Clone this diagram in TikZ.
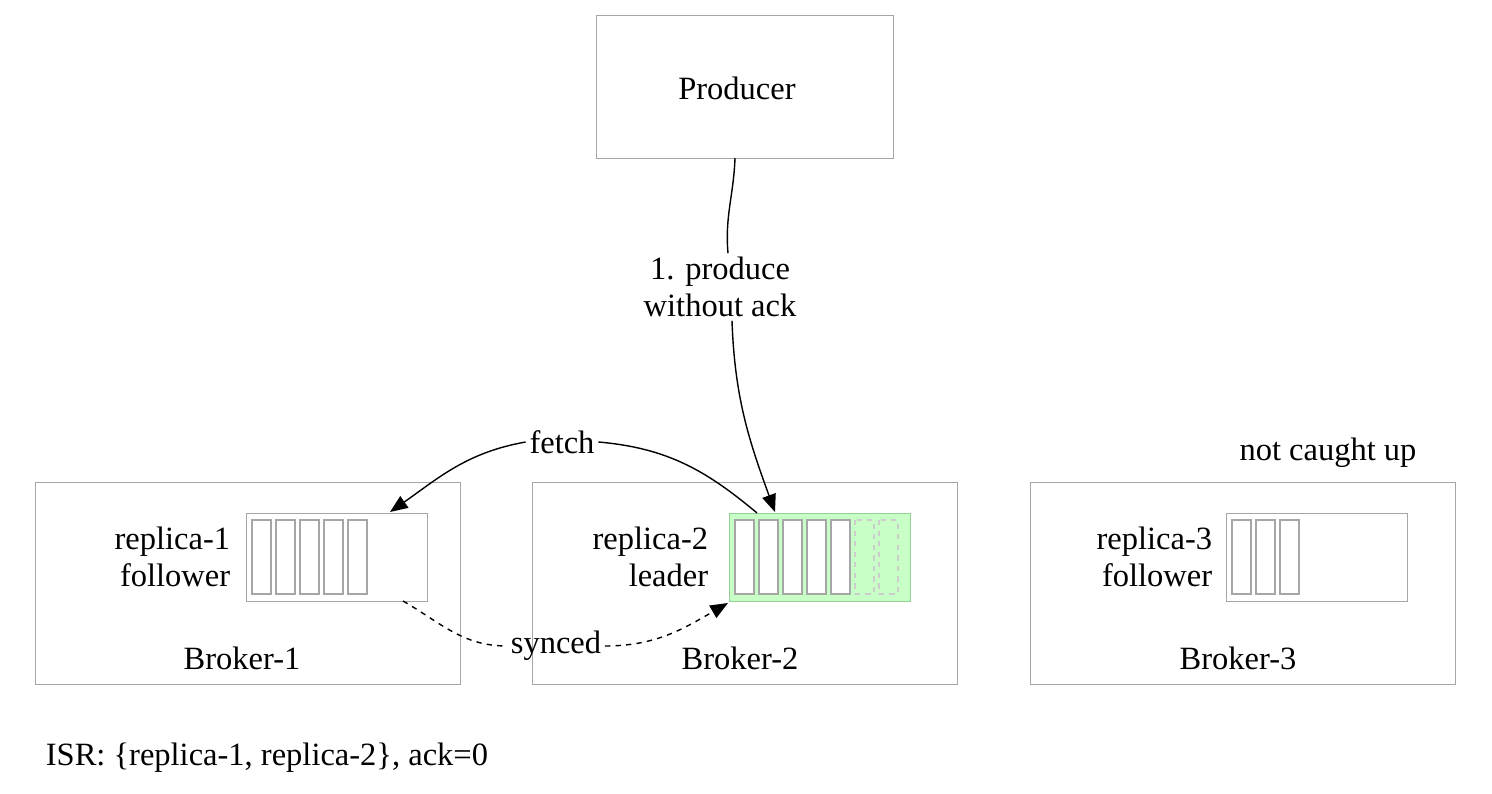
\documentclass[tikz,border=0pt]{standalone}
\usepackage{fontspec}
\setmainfont{Liberation Serif}
\usetikzlibrary{arrows.meta,positioning}
\tikzset{
  box/.style={draw=gray!70, line width=0.8pt, minimum width=425*0.02cm, minimum height=202*0.02cm, anchor=north west},
  logbox/.style={draw=gray!70, line width=0.8pt, minimum width=181*0.02cm, minimum height=88*0.02cm, anchor=north west, inner sep=0pt},
  cell/.style={draw=gray!70, line width=0.7pt},
  lbl/.style={font=\fontsize{18.5}{21}\selectfont, align=center, inner sep=2pt},
  conn/.style={line width=0.8pt, -{Triangle[length=10pt,width=8pt]}},
}
\begin{document}
\begin{tikzpicture}[x=0.02cm,y=-0.02cm]
    \useasboundingbox (0,0) rectangle (1492,794);

    % Producer
    \node[box, minimum width=297*0.02cm, minimum height=143*0.02cm] (prod) at (596,15) {};
    \node[lbl] (prodtxt) at (737,88) {Producer};

    % Brokers
    \node[box] (b1) at (35,482) {};
    \node[box] (b2) at (532,482) {};
    \node[box] (b3) at (1030,482) {};
    \node[lbl] (b1txt) at (242,658) {Broker-1};
    \node[lbl] (b2txt) at (740,658) {Broker-2};
    \node[lbl] (b3txt) at (1238,658) {Broker-3};

    % Logs
    \node[logbox] (log1) at (246,513) {};
    \node[logbox, fill=green!22, draw=green!40!gray!60] (log2) at (729,513) {};
    \node[logbox] (log3) at (1226,513) {};
    \foreach \i in {0,...,4} {
        \draw[cell] (252+\i*24,520) rectangle (271+\i*24,594);
        \draw[cell, fill=white] (735+\i*24,520) rectangle (754+\i*24,594);
    }
    \foreach \i in {5,6}
        \draw[cell, dashed, draw=gray!40] (735+\i*24,520) rectangle (754+\i*24,594);
    \foreach \i in {0,...,2}
        \draw[cell] (1232+\i*24,520) rectangle (1251+\i*24,594);

    % Replica labels
    \node[lbl, align=right, anchor=east] (r1) at (234,557) {replica-1\\follower};
    \node[lbl, align=right, anchor=east] (r2) at (712,557) {replica-2\\leader};
    \node[lbl, align=right, anchor=east] (r3) at (1216,557) {replica-3\\follower};

    % Produce
    \node[lbl] (ack) at (720,287) {1. produce\\without ack};
    \coordinate (prodout) at (735,158);
    \draw[line width=0.8pt] (prodout) to[out=-92,in=95] (ack.north -| 728,0);
    \draw[conn] (ack.south -| 732,0) to[out=-88,in=110] (775,512);

    % Fetch
    \node[lbl] (fetch) at (562,442) {fetch};
    \draw[line width=0.8pt] (757,513) to[out=140,in=-5] (fetch.east);
    \draw[conn] (fetch.west) to[out=190,in=35] (390,512);

    % Synced
    \node[lbl] (sync) at (556,646) {synced};
    \draw[line width=0.8pt, dashed] (403,601) to[out=-30,in=180] (sync.west);
    \draw[conn, dashed] (sync.east) to[out=0,in=-150] (728,603);

    \node[lbl, fill=white, inner sep=1pt] (ncu) at (1328,453) {not caught up};
    \node[lbl, anchor=west] (isr) at (42,758) {ISR: \{replica-1, replica-2\}, ack=0};
\end{tikzpicture}
\end{document}
